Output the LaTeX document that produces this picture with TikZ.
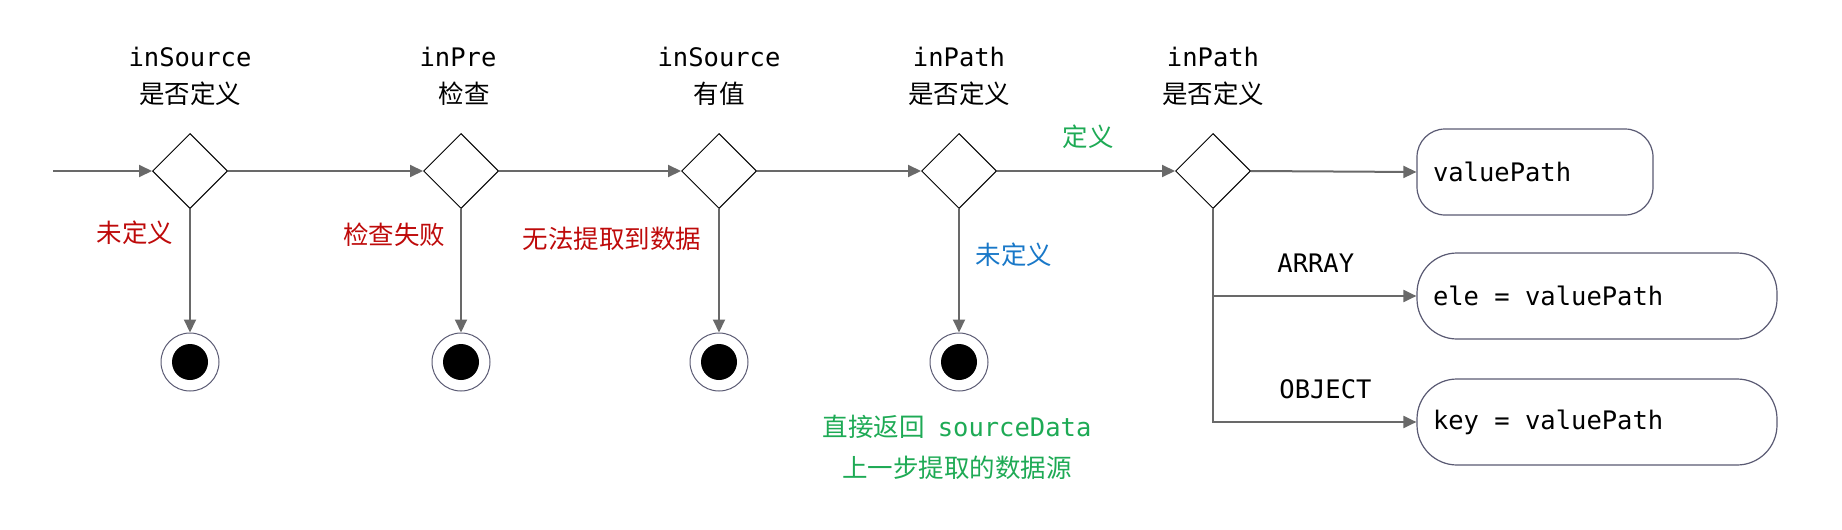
\documentclass[tikz,border=0pt]{standalone}
\usepackage{fontspec}
\setmonofont{DejaVu Sans Mono}
\newfontfamily\cjk{Noto Sans CJK SC}
\usetikzlibrary{shapes.geometric,arrows.meta}
\definecolor{lred}{RGB}{190,10,10}
\definecolor{lblue}{RGB}{25,120,200}
\definecolor{lgreen}{RGB}{30,170,85}
\definecolor{lgrey}{RGB}{105,105,105}
\definecolor{lbox}{RGB}{90,90,115}
\newcommand{\msp}{\hphantom{x}}
\tikzset{
  txt/.style={font=\fontsize{12.75}{18.5}\selectfont, inner sep=0pt},
  title/.style={txt, align=center},
  decision/.style={diamond, draw=black, line width=0.5pt, minimum width=37.5pt, minimum height=37.5pt, aspect=1, inner sep=0pt, fill=white},
  final/.style={circle, draw=lbox, line width=0.5pt, minimum size=29pt, inner sep=0pt, path picture={\fill[black] (path picture bounding box.center) circle (9pt);}},
  flow/.style={draw=lgrey, line width=1pt, -{Triangle[length=6.5pt,width=6pt]}},
  endbox/.style={draw=lbox, line width=0.6pt, fill=white, font=\fontsize{12.75}{15}\selectfont\ttfamily, align=left, inner xsep=8pt, inner ysep=0pt, minimum height=43pt},
}
\begin{document}
\begin{tikzpicture}[x=0.5pt,y=-0.5pt]
\useasboundingbox (0,0) rectangle (1842,530);
% titles
\node[title] (t1) at (190,76) {\ttfamily inSource\\\cjk 是否定义};
\node[title] (t2) at (458,76) {\ttfamily inPre\\\cjk\hspace{6pt}检查};
\node[title] (t3) at (719,76) {\ttfamily inSource\\\cjk 有值};
\node[title] (t4) at (959,76) {\ttfamily inPath\\\cjk 是否定义};
\node[title] (t5) at (1213,76) {\ttfamily inPath\\\cjk 是否定义};
% decisions
\node[decision] (d1) at (190,171) {};
\node[decision] (d2) at (461,171) {};
\node[decision] (d3) at (719,171) {};
\node[decision] (d4) at (959,171) {};
\node[decision] (d5) at (1213,171) {};
% finals
\node[final] (f1) at (190,362) {};
\node[final] (f2) at (461,362) {};
\node[final] (f3) at (719,362) {};
\node[final] (f4) at (959,362) {};
% boxes
\node[endbox, minimum width=118pt, text width=102pt, rounded corners=14pt] (b1) at (1535,172) {valuePath};
\node[endbox, minimum width=180pt, text width=164pt, rounded corners=20pt] (b2) at (1597,296) {ele\msp=\msp valuePath};
\node[endbox, minimum width=180pt, text width=164pt, rounded corners=20pt] (b3) at (1597,422) {key\msp=\msp valuePath};
% entry
\coordinate (start) at (53,171);
\draw[flow] (start) -- (d1.west);
\draw[flow] (d1.east) -- (d2.west);
\draw[flow] (d2.east) -- (d3.west);
\draw[flow] (d3.east) -- (d4.west);
\draw[flow] (d4.east) -- (d5.west);
\draw[flow] (d5.east) -- (b1.west);
\draw[flow] (d1.south) -- (f1.north);
\draw[flow] (d2.south) -- (f2.north);
\draw[flow] (d3.south) -- (f3.north);
\draw[flow] (d4.south) -- (f4.north);
\draw[flow] (d5.south) |- (b2.west);
\draw[flow] (d5.south) |- (b3.west);
% labels
\node[txt, text=lred] (l1) at (135,233) {\cjk 未定义};
\node[txt, text=lred] (l2) at (394,235) {\cjk 检查失败};
\node[txt, text=lred] (l3) at (612,239) {\cjk 无法提取到数据};
\node[txt, text=lblue] (l4) at (1014,255) {\cjk 未定义};
\node[txt, text=lgreen] (l5) at (1088,137) {\cjk 定义};
\node[txt, anchor=west] (l6) at (1277,263) {\ttfamily ARRAY};
\node[txt, anchor=west] (l7) at (1279,389) {\ttfamily OBJECT};
\node[title, text=lgreen] (l8) at (957,447) {{\cjk 直接返回}\msp{\ttfamily sourceData}\\[2pt]\cjk 上一步提取的数据源};
\end{tikzpicture}
\end{document}
